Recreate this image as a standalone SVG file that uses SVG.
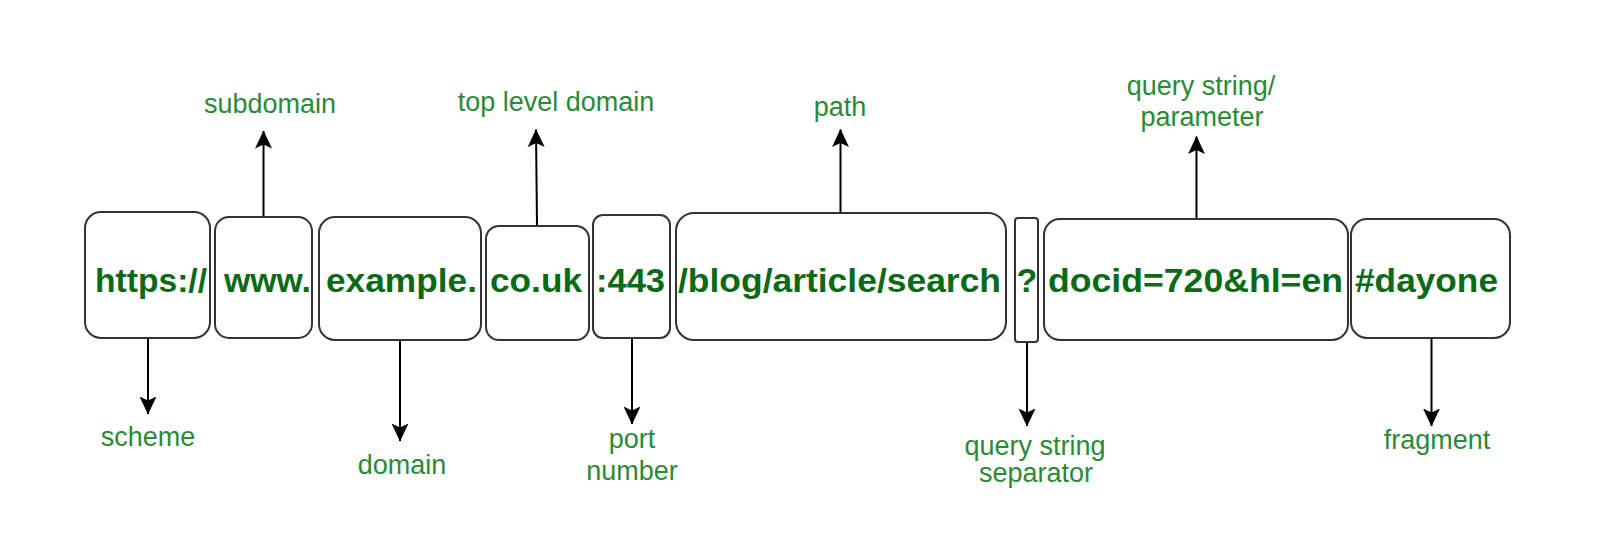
<svg xmlns="http://www.w3.org/2000/svg" width="1598" height="540" viewBox="0 0 1598 540">
  <style>
    .box { fill: #ffffff; stroke: #333333; stroke-width: 2; }
    .main { font-family: "Liberation Sans", Arial, sans-serif; font-weight: bold; font-size: 34px; fill: #0b6a16; }
    .lbl { font-family: "Liberation Sans", Arial, sans-serif; font-size: 27px; fill: #2a8a36; text-anchor: middle; }
    .conn { stroke: #000000; stroke-width: 2; fill: none; marker-end: url(#arr); }
  </style>
  <defs>
    <marker id="arr" viewBox="0 0 18 18" refX="17.5" refY="9" markerWidth="18" markerHeight="18" orient="auto" markerUnits="userSpaceOnUse">
      <path d="M0,0.5 L18,9 L0,17.5 L4,9 Z" fill="#000000"/>
    </marker>
  </defs>
  <rect width="1598" height="540" fill="#ffffff"/>

  <g id="connectors">
    <line class="conn" x1="148" y1="338" x2="148" y2="414"/>
    <line class="conn" x1="263.5" y1="217" x2="263.5" y2="131"/>
    <line class="conn" x1="400" y1="340" x2="400" y2="441"/>
    <line class="conn" x1="537" y1="226" x2="536" y2="129.5"/>
    <line class="conn" x1="632" y1="338" x2="632" y2="424"/>
    <line class="conn" x1="840.5" y1="213" x2="840.5" y2="129.5"/>
    <line class="conn" x1="1027" y1="342" x2="1027" y2="426"/>
    <line class="conn" x1="1196.5" y1="219" x2="1196.5" y2="136.5"/>
    <line class="conn" x1="1431.5" y1="338" x2="1431.5" y2="426"/>
  </g>

  <g id="scheme">
    <rect class="box" x="85" y="212" width="125" height="126" rx="16" ry="16"/>
    <text class="main" x="95" y="292" textLength="112" lengthAdjust="spacingAndGlyphs">https://</text>
  </g>
  <g id="subdomain">
    <rect class="box" x="215" y="217" width="97" height="121" rx="14" ry="14"/>
    <text class="main" x="224" y="292" textLength="87" lengthAdjust="spacingAndGlyphs">www.</text>
  </g>
  <g id="domain">
    <rect class="box" x="319" y="217" width="162" height="123" rx="16" ry="16"/>
    <text class="main" x="326" y="292" textLength="151" lengthAdjust="spacingAndGlyphs">example.</text>
  </g>
  <g id="tld">
    <rect class="box" x="486" y="226" width="103" height="114" rx="13" ry="13"/>
    <text class="main" x="490" y="292" textLength="92" lengthAdjust="spacingAndGlyphs">co.uk</text>
  </g>
  <g id="port">
    <rect class="box" x="593" y="215" width="77" height="123" rx="10" ry="10"/>
    <text class="main" x="596" y="292" textLength="69" lengthAdjust="spacingAndGlyphs">:443</text>
  </g>
  <g id="path">
    <rect class="box" x="676" y="213" width="330" height="127" rx="18" ry="18"/>
    <text class="main" x="678" y="292" textLength="323" lengthAdjust="spacingAndGlyphs">/blog/article/search</text>
  </g>
  <g id="separator">
    <rect class="box" x="1015" y="218" width="23" height="124" rx="3" ry="3"/>
    <text class="main" x="1027" y="292" text-anchor="middle">?</text>
  </g>
  <g id="query">
    <rect class="box" x="1044" y="219" width="304" height="121" rx="16" ry="16"/>
    <text class="main" x="1048" y="292" textLength="295" lengthAdjust="spacingAndGlyphs">docid=720&amp;hl=en</text>
  </g>
  <g id="fragment">
    <rect class="box" x="1351" y="219" width="159" height="119" rx="16" ry="16"/>
    <text class="main" x="1355" y="292" textLength="143" lengthAdjust="spacingAndGlyphs">#dayone</text>
  </g>

  <g id="labels">
    <text class="lbl" x="270" y="113">subdomain</text>
    <text class="lbl" x="556" y="111">top level domain</text>
    <text class="lbl" x="840" y="116">path</text>
    <text class="lbl" x="1201" y="95">query string/</text>
    <text class="lbl" x="1202" y="126">parameter</text>
    <text class="lbl" x="148" y="446">scheme</text>
    <text class="lbl" x="402" y="474">domain</text>
    <text class="lbl" x="632" y="448">port</text>
    <text class="lbl" x="632" y="480">number</text>
    <text class="lbl" x="1035" y="455">query string</text>
    <text class="lbl" x="1036" y="482">separator</text>
    <text class="lbl" x="1437" y="449">fragment</text>
  </g>
</svg>
